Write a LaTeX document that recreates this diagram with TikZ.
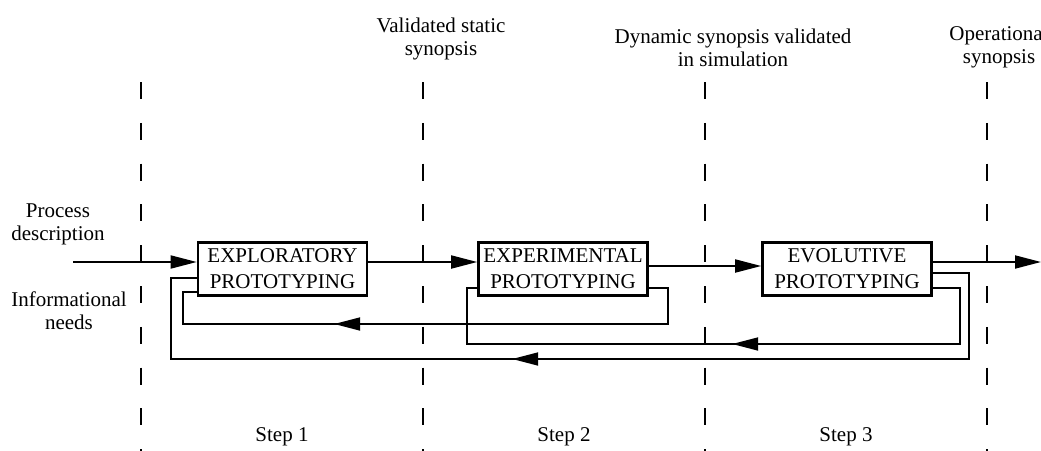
\documentclass[tikz,border=0pt]{standalone}
\usepackage{fontspec}
\setmainfont{Liberation Serif}
\usetikzlibrary{arrows.meta,decorations.markings}

\tikzset{
	box/.style={draw, line width=2.6pt, minimum width=169pt, minimum height=53pt, align=center, inner sep=0pt, font=\fontsize{21}{26}\selectfont},
	link/.style={line width=1.8pt},
	phaseline/.style={line width=2.2pt, dash pattern=on 17pt off 23.8pt},
	label/.style={align=center, inner sep=0pt},
	midtip/.style={postaction={decorate}, decoration={markings, mark=at position #1 with {\arrow{>}}}}
}

\begin{document}
\begin{tikzpicture}
				[
				x=1pt, y=-1pt, font=\fontsize{21}{23}\selectfont, >={Triangle[length=26pt,width=13pt]}
				%Voreinstellung für Pfeilspitzen
				]
				
				%Rahmen
				\useasboundingbox (0,0) rectangle (1041,450);
				
				%Phasengrenzen
				\foreach \x in {141,423,705,987}
					\draw[phaseline] (\x,82) -- (\x,452);
				
				%Obere Texte
				\node[label] (vstat) at (441,39) {Validated static\\synopsis};
				\node[label] (vdyn) at (733,48) {Dynamic synopsis validated\\in simulation};
				\node[label] (oper) at (999,47) {Operational\\synopsis};
				
				%Linke Texte
				\node[label] (procdesc) at (58,224) {Process\\description};
				\node[label] (infoneeds) at (69,311) {Informational\\needs};
				
				%Schritte
				\node[label] (step1) at (282,437) {Step 1};
				\node[label] (step2) at (564,437) {Step 2};
				\node[label] (step3) at (846,437) {Step 3};
				
				%Kästen
				\node[box] (explo) at (282.5,269) {EXPLORATORY\\PROTOTYPING};
				\node[box] (exper) at (563,269) {EXPERIMENTAL\\PROTOTYPING};
				\node[box] (evolu) at (847,269) {EVOLUTIVE\\PROTOTYPING};
				
				%Ein- und Ausgang
				\coordinate (input) at (73,262);
				\coordinate (output) at (1041,262);
				\draw[link, ->] (input) -- ([yshift=7pt]explo.west);
				\draw[link, ->] ([yshift=7pt]explo.east) -- ([yshift=7pt]exper.west);
				\draw[link, ->] ([yshift=3pt]exper.east) -- ([yshift=3pt]evolu.west);
				\draw[link, ->] ([yshift=7pt]evolu.east) -- (output);
				
				%Rückführungen
				\draw[link, midtip=389pt] ([yshift=-19pt]exper.east) -| (668,324) -| (183,292) -- ([yshift=-23pt]explo.west);
				\draw[link, midtip=311pt] ([yshift=-19pt]evolu.east) -| (960,344) -| (467,288) -- ([yshift=-19pt]exper.west);
				\draw[link, midtip=579pt] ([yshift=-4pt]evolu.east) -| (969,359) -| (171,278) -- ([yshift=-9pt]explo.west);
			\end{tikzpicture}
\end{document}
